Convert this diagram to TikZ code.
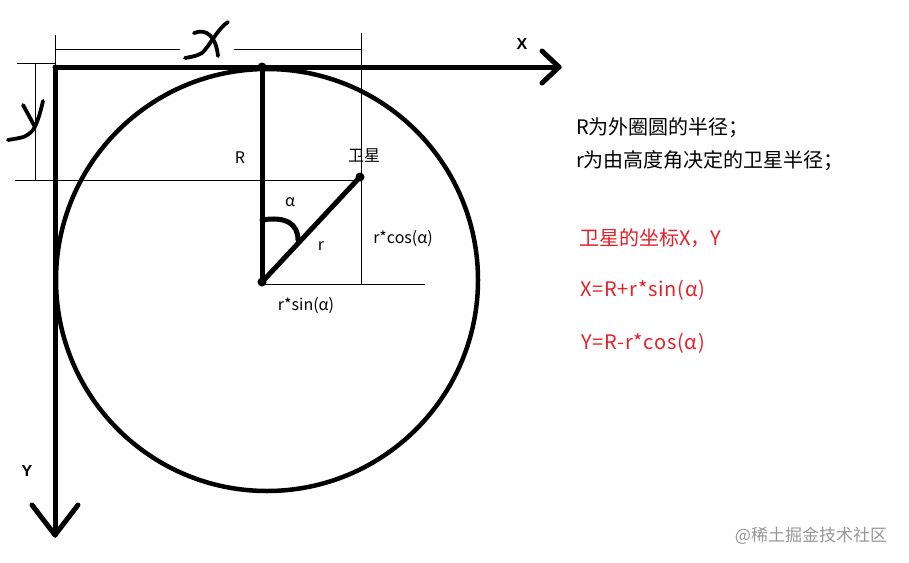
\documentclass[tikz,border=0pt]{standalone}
\usepackage{fontspec}
\setmainfont{Noto Sans CJK SC}
\newfontfamily\axisfont{Liberation Sans}
\definecolor{redtxt}{RGB}{228,32,40}
\definecolor{wmgray}{RGB}{150,150,150}
\begin{document}
\begin{tikzpicture}[x=1pt,y=-1pt,
  thickline/.style={line width=5pt, line cap=round, line join=round},
  handline/.style={line width=3.8pt, line cap=round, line join=round},
  thinline/.style={line width=1pt},
  dotnode/.style={circle, fill=black, inner sep=0pt, minimum size=9pt},
  lbl/.style={font=\fontsize{16}{18}\selectfont, inner sep=0pt},
  axislbl/.style={font=\axisfont\bfseries\fontsize{16}{18}\selectfont, inner sep=0pt},
  note/.style={font=\fontsize{20}{22}\selectfont, inner sep=0pt, anchor=west},
  rednote/.style={note, text=redtxt},
  formula/.style={rednote, font=\fontsize{20}{22}\selectfont\addfontfeature{LetterSpace=4}},
]
\useasboundingbox (0,0) rectangle (909,562);

% key points
\coordinate (O) at (55,67);
\coordinate (xtip) at (559,67);
\coordinate (ytip) at (55,535);
\node[dotnode] (T) at (262,67) {};
\node[dotnode] (C) at (262,282) {};
\node[dotnode] (S) at (360,177) {};

% circle
\draw[line width=4.5pt] (267,280) circle[radius=211];

% axes
\draw[thickline] (O) -- (xtip);
\draw[thickline] (xtip) ++(-17,-16) -- (xtip) -- ++(-17,16);
\draw[thickline] (O) -- (ytip);
\draw[thickline] (ytip) ++(-23,-30) -- (ytip) -- ++(23,-30);

% radius and satellite line
\draw[thickline] (T.center) -- (C.center);
\draw[thickline] (C.center) -- (S.center);
% alpha arc
\draw[thickline] (262,220) .. controls (286,216) and (298,224) .. (298,240);

% thin guide lines
\coordinate (h1a) at (15,180);
\coordinate (h1b) at (361,180);
\draw[thinline] (h1a) -- (h1b);
\coordinate (v1a) at (361,33);
\coordinate (v1b) at (361,284);
\draw[thinline] (v1a) -- (v1b);
\coordinate (h2a) at (262,284);
\coordinate (h2b) at (425,284);
\draw[thinline] (h2a) -- (h2b);
% X dimension
\coordinate (dx1) at (55,49);
\coordinate (dx2) at (180,49);
\coordinate (dx3) at (234,49);
\coordinate (dx4) at (361,49);
\draw[thinline] (dx1) -- (dx2);
\draw[thinline] (dx3) -- (dx4);
\coordinate (dxv1) at (55,35);
\draw[thinline] (dxv1) -- (O);
% Y dimension
\coordinate (dy1) at (17,63);
\coordinate (dy2) at (55,63);
\draw[thinline] (dy1) -- (dy2);
\coordinate (dy3) at (35,63);
\coordinate (dy4) at (35,180);
\draw[thinline] (dy3) -- (dy4);

% hand drawn X
\draw[handline] (194,33) .. controls (207,28) and (216,37) .. (218,56);
\draw[handline] (228,22) .. controls (218,28) and (209,47) .. (202,53) .. controls (196,56) .. (185,58);
% hand drawn Y
\draw[handline] (43,101) .. controls (40,114) and (37,124) .. (33,130) .. controls (26,137) .. (8,140);
\draw[handline] (23,105) .. controls (28,114) .. (35,127);

% labels
\node[axislbl] (lx) at (522,44) {X};
\node[axislbl] (ly) at (27,471) {Y};
\node[lbl] (lR) at (240,158) {R};
\node[lbl] (lsat) at (364,156) {卫星};
\node[lbl] (lalpha) at (290,202) {α};
\node[lbl] (lr) at (321,246) {r};
\node[lbl] (lcos) at (403,239) {r*cos(α)};
\node[lbl] (lsin) at (306,306) {r*sin(α)};

% notes
\node[note] (n1) at (576,128) {R为外圈圆的半径；};
\node[note] (n2) at (576,161) {r为由高度角决定的卫星半径；};
\node[rednote] (n3) at (579,238) {卫星的坐标X，Y};
\node[formula] (n4) at (580,290) {X=R+r*sin(α)};
\node[formula] (n5) at (581,343) {Y=R-r*cos(α)};

% watermark
\node[font=\fontsize{17}{19}\selectfont, text=wmgray, inner sep=0pt] (wm) at (811,536) {@稀土掘金技术社区};
\end{tikzpicture}
\end{document}
